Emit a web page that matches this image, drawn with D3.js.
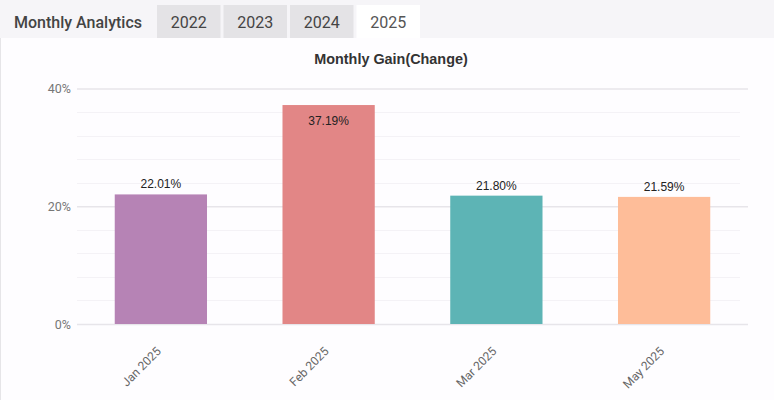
<!DOCTYPE html>
<html>
<head>
<meta charset="utf-8">
<script src="https://cdn.jsdelivr.net/npm/d3@7"></script>
<style>
  html, body { margin: 0; padding: 0; background: #fdfcfe; }
  svg { display: block; }
</style>
</head>
<body>
<svg id="chart" width="774" height="400"></svg>
<script>
const tabs = ["2022", "2023", "2024", "2025"];
const activeTab = "2025";
const categories = ["Jan 2025", "Feb 2025", "Mar 2025", "May 2025"];
const values = [22.01, 37.19, 21.80, 21.59];
const colors = ["#b683b5", "#e28686", "#5db4b5", "#febd99"];
const yTicks = [0, 20, 40];
const yMinorTicks = [4, 8, 12, 16, 24, 28, 32, 36];
const title = "Monthly Gain(Change)";
const headerTitle = "Monthly Analytics";

(function () {
const svg = d3.select("#chart");
const W = 774, H = 400;

// header
svg.append("rect").attr("x", 0).attr("y", 0).attr("width", W).attr("height", 38).attr("fill", "#f6f5f8");
svg.append("rect").attr("x", 0).attr("y", 38).attr("width", W).attr("height", H - 38).attr("fill", "#fefdff");
svg.append("line").attr("x1", 0.5).attr("x2", 0.5).attr("y1", 38).attr("y2", H).attr("stroke", "#e6e5e8");

svg.append("text").attr("x", 14).attr("y", 28)
  .attr("font-family", "Roboto, sans-serif").attr("font-size", 16).attr("font-weight", 500).attr("fill", "#444")
  .text(headerTitle);

const tabX = d3.scaleBand().domain(tabs).range([157, 420]).paddingInner(0.045).paddingOuter(0);
const tabG = svg.append("g").selectAll("g").data(tabs).join("g");
tabG.append("rect")
  .attr("x", d => tabX(d)).attr("y", 5).attr("width", tabX.bandwidth()).attr("height", 33)
  .attr("fill", d => d === activeTab ? "#ffffff" : "#e4e3e6");
tabG.append("text")
  .attr("x", d => tabX(d) + tabX.bandwidth() / 2).attr("y", 28)
  .attr("text-anchor", "middle")
  .attr("font-family", "Roboto, sans-serif").attr("font-size", 16)
  .attr("fill", d => d === activeTab ? "#555" : "#444")
  .text(d => d);

// title
svg.append("text").attr("x", 391).attr("y", 64).attr("text-anchor", "middle")
  .attr("font-family", "'Liberation Sans', Arial, sans-serif").attr("font-weight", "bold")
  .attr("font-size", 14.4).attr("fill", "#333").text(title);

const pLeft = 77, pRight = 748, pTop = 88.5, pBottom = 324;
const x = d3.scaleBand().domain(categories).range([pLeft, pRight]).paddingInner(0.45).paddingOuter(0.225);
const y = d3.scaleLinear().domain([0, 40]).range([pBottom, pTop]);

// minor grid
svg.append("g").selectAll("line").data(yMinorTicks).join("line")
  .attr("x1", pLeft).attr("x2", 740)
  .attr("y1", d => Math.round(y(d)) + 0.5).attr("y2", d => Math.round(y(d)) + 0.5)
  .attr("stroke", "#f4f2f6").attr("stroke-width", 1);

// major grid via axis
const yAxis = d3.axisLeft(y).tickValues(yTicks).tickFormat(d => d + "%").tickSize(-(pRight - pLeft)).tickPadding(6);
const gy = svg.append("g").attr("transform", `translate(${pLeft},0)`).call(yAxis);
gy.select(".domain").remove();
gy.selectAll(".tick line").attr("stroke", "#e7e5ea").attr("stroke-width", 1.3);
gy.selectAll(".tick text").attr("font-family", "Roboto, sans-serif").attr("font-size", 12.5).attr("fill", "#777").attr("x", -6);

// bars
svg.append("g").selectAll("rect").data(values).join("rect")
  .attr("x", (d, i) => x(categories[i])).attr("width", x.bandwidth())
  .attr("y", d => y(d)).attr("height", d => y(0) - y(d))
  .attr("fill", (d, i) => colors[i]);

// value labels
svg.append("g").selectAll("text").data(values).join("text")
  .attr("x", (d, i) => x(categories[i]) + x.bandwidth() / 2)
  .attr("y", d => d > 30 ? y(d) + 20 : y(d) - 6)
  .attr("text-anchor", "middle")
  .attr("font-family", "'Liberation Sans', Arial, sans-serif").attr("font-size", 12).attr("fill", "#222")
  .text(d => d.toFixed(2) + "%");

// x axis
const xAxis = d3.axisBottom(x).tickSize(0).tickPadding(0);
const gx = svg.append("g").attr("transform", `translate(0,${pBottom})`).call(xAxis);
gx.select(".domain").remove();
gx.selectAll(".tick text")
  .attr("font-family", "Roboto, sans-serif").attr("font-size", 12).attr("fill", "#666")
  .attr("text-anchor", "end")
  .attr("dy", 0).attr("y", 0)
  .attr("transform", "translate(1,28) rotate(-45)");
})();
</script>
</body>
</html>
